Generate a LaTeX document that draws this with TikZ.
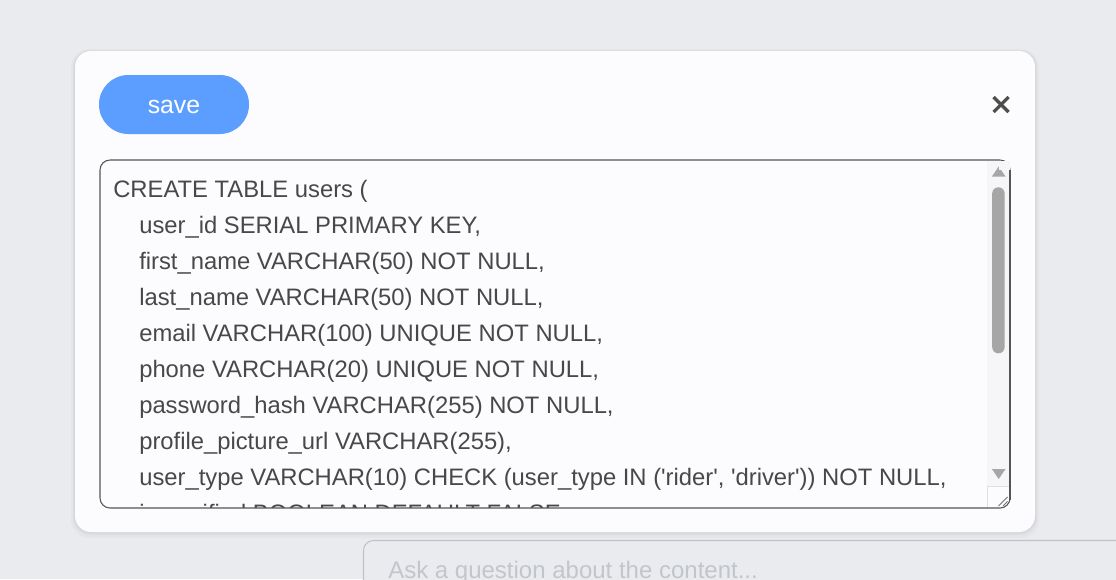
\documentclass[tikz,border=0pt]{standalone}
\usepackage{fontspec}
\setmainfont{Liberation Sans}[Ligatures=TeXOff]
\definecolor{bggray}{HTML}{E9EBEE}
\definecolor{cardwhite}{HTML}{FCFCFE}
\definecolor{btnblue}{HTML}{5C9EFF}
\definecolor{codegray}{HTML}{484848}
\definecolor{areaborder}{HTML}{555555}
\definecolor{trackgray}{HTML}{F6F6F8}
\definecolor{thumbgray}{HTML}{A6A6A6}
\definecolor{phgray}{HTML}{C2C5CB}
\definecolor{inputborder}{HTML}{BFC2C7}
\definecolor{xgray}{HTML}{4D4D4D}
\begin{document}
\begin{tikzpicture}[x=0.75pt,y=-0.75pt,
  codetext/.style={anchor=base west, inner sep=0pt, text=codegray, font=\fontsize{17.85}{21}\selectfont},
  phtext/.style={anchor=base west, inner sep=0pt, text=phgray, font=\fontsize{18}{21}\selectfont},
  btntext/.style={anchor=base, inner sep=0pt, text=white, font=\fontsize{18.6}{21}\selectfont},
  arrowtri/.style={fill=thumbgray}]
\useasboundingbox (0,0) rectangle (1116,579);
\fill[bggray] (0,0) rectangle (1116,579);
% card shadow
\fill[black, opacity=0.025, rounded corners=14pt] (71,49) rectangle (1039,538);
\fill[black, opacity=0.03, rounded corners=13pt] (73,50) rectangle (1037,535);
\fill[black, opacity=0.03, rounded corners=12.5pt] (74,51) rectangle (1036,533);
% card
\fill[cardwhite, rounded corners=12pt] (75,51) rectangle (1035,532);
% save button
\fill[btnblue, rounded corners=22pt] (99,75) rectangle (249,134);
\node[btntext] (save) at (174,113) {save};
% close X
\coordinate (xc) at (1001,104.5);
\draw[xgray, line width=2.4pt] ([shift={(-7.5,-7.5)}]xc) -- ([shift={(7.5,7.5)}]xc);
\draw[xgray, line width=2.4pt] ([shift={(7.5,-7.5)}]xc) -- ([shift={(-7.5,7.5)}]xc);
% textarea
\fill[cardwhite, rounded corners=7.5pt] (100,160) rectangle (1010,508);
\begin{scope}
\clip (101,161) rectangle (987,507);
\node[codetext] (l1) at (113,197) {CREATE TABLE users (};
\node[codetext] (l2) at (139,233) {user\_id SERIAL PRIMARY KEY,};
\node[codetext] (l3) at (139,269) {first\_name VARCHAR(50) NOT NULL,};
\node[codetext] (l4) at (139,305) {last\_name VARCHAR(50) NOT NULL,};
\node[codetext] (l5) at (139,341) {email VARCHAR(100) UNIQUE NOT NULL,};
\node[codetext] (l6) at (139,377) {phone VARCHAR(20) UNIQUE NOT NULL,};
\node[codetext] (l7) at (139,413) {password\_hash VARCHAR(255) NOT NULL,};
\node[codetext] (l8) at (139,449) {profile\_picture\_url VARCHAR(255),};
\node[codetext] (l9) at (139,485) {user\_type VARCHAR(10) CHECK (user\_type IN ('rider', 'driver')) NOT NULL,};
\node[codetext] (l10) at (139,521) {is\_verified BOOLEAN DEFAULT FALSE,};
\end{scope}
% scrollbar track
\fill[trackgray] (987,161) rectangle (1009.5,507);
\fill[arrowtri] (998.7,166.5) -- (1005.5,176.5) -- (991.9,176.5) -- cycle;
\fill[thumbgray, rounded corners=4.5pt] (992.2,187.3) rectangle (1004.6,353.3);
\fill[arrowtri] (998.7,479) -- (1005.5,469) -- (991.9,469) -- cycle;
% resize corner
\fill[cardwhite] (987,486) rectangle (1009.5,507.5);
\draw[black!12, line width=0.5pt] (987,486) -- (987,507.5);
\draw[black!12, line width=0.5pt] (987,486) -- (1009.5,486);
\draw[black!55, line width=0.7pt] (998.5,506) -- (1007.5,497);
\draw[black!55, line width=0.7pt] (1003,506) -- (1007.5,501.5);
% textarea border
\draw[areaborder, line width=0.8pt, rounded corners=7.5pt] (100,160) rectangle (1010,508);
% cover the top right corner like the reference
\fill[trackgray] (999,160.6) rectangle (1009.6,170);
\draw[areaborder, line width=0.8pt] (1010,170) -- (1010,500);
% bottom input
\draw[inputborder, fill=bggray, line width=0.8pt, rounded corners=7.5pt] (363.5,540.5) rectangle (1140,620);
\node[phtext] (ph) at (388,578) {Ask a question about the content...};
\end{tikzpicture}
\end{document}
